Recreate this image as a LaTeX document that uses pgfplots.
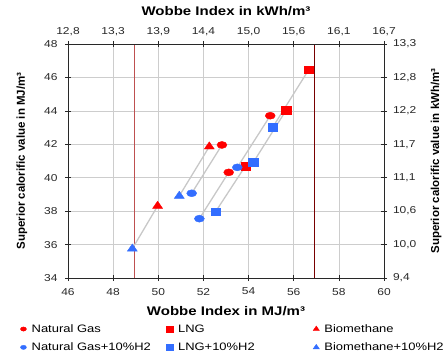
\documentclass[border=0pt]{standalone}
\usepackage{fontspec}
\setmainfont{Liberation Sans}[FakeStretch=1.2]
\newfontfamily\plainsf{Liberation Sans}
\usepackage{pgfplots}
\pgfplotsset{compat=1.18}
\definecolor{myred}{RGB}{255,0,0}
\definecolor{myblue}{RGB}{51,110,255}
\definecolor{lnk}{RGB}{200,200,200}
\definecolor{gridc}{RGB}{205,205,205}
\definecolor{axc}{RGB}{40,40,40}
\definecolor{limA}{RGB}{190,80,80}
\definecolor{limB}{RGB}{120,0,0}
\pgfplotsset{
  common/.style={
    at={(0,0)}, anchor=south west,
    scale only axis, width=316pt, height=234pt,
    xmin=46, xmax=60, ymin=34, ymax=48,
    xtick={46,48,...,60}, ytick={34,36,...,48},
    axis line style={draw=axc, line width=0.9pt},
    tick style={draw=axc, line width=0.7pt},
    tick align=center, major tick length=6pt,
    tick label style={font=\fontsize{10}{12}\selectfont, text=axc},
    /pgf/number format/assume math mode=true,
  },
  lk/.style={draw=lnk, line width=1.3pt, forget plot},
}
\begin{document}
\begin{tikzpicture}[x=1pt,y=1pt]
\path[use as bounding box] (-68,-75) rectangle (378,278);
\begin{axis}[common,
  xtick pos=left, ytick pos=left,
  xticklabel style={yshift=-3.5pt},
  yticklabel style={xshift=-4pt},
  grid=major, major grid style={draw=gridc, line width=0.7pt},
  xlabel={Wobbe Index in MJ/m³},
  ylabel={\plainsf Superior calorific value in MJ/m³},
  xlabel style={font=\fontsize{12.5}{14}\selectfont\bfseries, at={(axis description cs:0.5,-0.141)}, anchor=center},
  ylabel style={font=\fontsize{11.5}{14}\selectfont\bfseries, at={(axis description cs:-0.146,0.5)}, anchor=center},
  legend columns=3,
  legend style={draw=none, fill=none, at={(axis description cs:-0.158,-0.193)}, anchor=north west,
    font=\fontsize{10.8}{12}\selectfont, row sep=7pt, inner sep=0pt,
    nodes={inner sep=1pt, anchor=west}},
  legend cell align=left,
  legend image code/.code={\path (0pt,0pt) (12pt,0pt); \draw[#1, mark size=3pt] plot coordinates {(5pt,0pt)};},
]
% limit lines
\addplot[draw=limA, line width=1pt, forget plot] coordinates {(48.95,34) (48.95,48)};
\addplot[draw=limB, line width=1pt, forget plot] coordinates {(56.9,34) (56.9,48)};
% connecting lines (+10% H2 -> pure)
\addplot[lk] coordinates {(48.85,35.75) (49.97,38.31)};
\addplot[lk] coordinates {(50.93,38.91) (52.26,41.86)};
\addplot[lk] coordinates {(51.48,39.07) (52.82,41.96)};
\addplot[lk] coordinates {(51.82,37.55) (53.12,40.32)};
\addplot[lk] coordinates {(53.50,40.62) (54.96,43.71)};
\addplot[lk] coordinates {(52.53,37.95) (53.86,40.70)};
\addplot[lk] coordinates {(54.21,40.92) (55.67,44.05)};
\addplot[lk] coordinates {(55.07,43.02) (56.66,46.45)};
% markers
\addplot[only marks, color=myred, mark=*, mark size=5pt, mark options={yscale=0.7}]
  coordinates {(52.82,41.96) (53.12,40.32) (54.96,43.71)};
\addlegendentry{\makebox[132pt][l]{Natural Gas}}
\addplot[only marks, color=myred, mark=square*, mark size=3.7pt, mark options={xscale=1.25}]
  coordinates {(53.86,40.70) (55.67,44.05) (56.66,46.45)};
\addlegendentry{\makebox[132pt][l]{LNG}}
\addplot[only marks, color=myred, mark=triangle*, mark size=4.8pt, mark options={xscale=1.2}]
  coordinates {(49.97,38.31) (52.26,41.86)};
\addlegendentry{Biomethane}
\addplot[only marks, color=myblue, mark=*, mark size=5pt, mark options={yscale=0.7}]
  coordinates {(51.48,39.07) (51.82,37.55) (53.50,40.62)};
\addlegendentry{\makebox[132pt][l]{Natural Gas+10\%H2}}
\addplot[only marks, color=myblue, mark=square*, mark size=3.7pt, mark options={xscale=1.25}]
  coordinates {(52.53,37.95) (54.21,40.92) (55.07,43.02)};
\addlegendentry{\makebox[132pt][l]{LNG+10\%H2}}
\addplot[only marks, color=myblue, mark=triangle*, mark size=4.8pt, mark options={xscale=1.2}]
  coordinates {(48.85,35.75) (50.93,38.91)};
\addlegendentry{Biomethane+10\%H2}
\end{axis}
\begin{axis}[common,
  xtick pos=right, xticklabel pos=right, ytick pos=right, yticklabel pos=right,
  xticklabel style={yshift=1.5pt},
  yticklabel style={xshift=2.5pt},
  xticklabels={{12,8},{13,3},{13,9},{14,4},{15,0},{15,6},{16,1},{16,7}},
  yticklabels={{9,4},{10,0},{10,6},{11,1},{11,7},{12,2},{12,8},{13,3}},
  xlabel={Wobbe Index in kWh/m³},
  ylabel={\plainsf Superior calorific value in kWh/m³},
  xlabel style={font=\fontsize{12.5}{14}\selectfont\bfseries, at={(axis description cs:0.5,1.141)}, anchor=center},
  ylabel style={font=\fontsize{11.5}{14}\selectfont\bfseries, at={(axis description cs:1.165,0.5)}, anchor=center},
]
\end{axis}
\end{tikzpicture}
\end{document}
